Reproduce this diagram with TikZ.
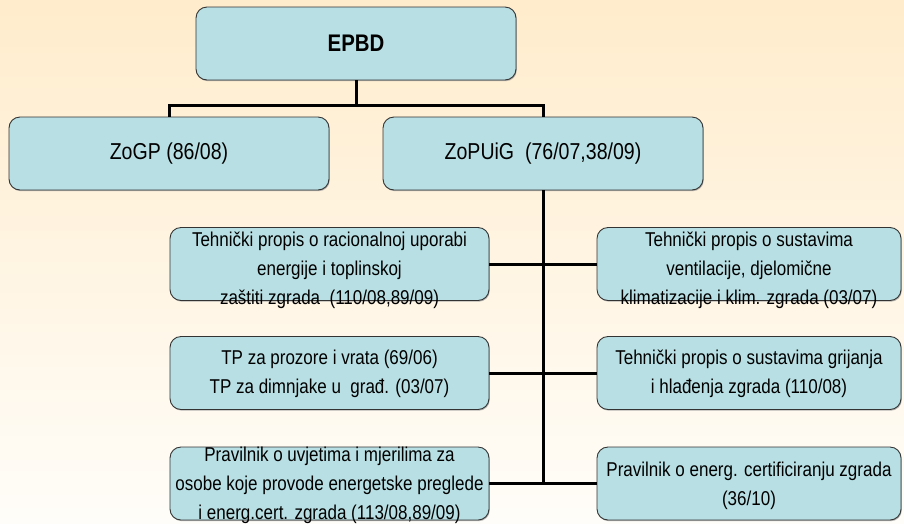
\documentclass[tikz,border=0pt]{standalone}
\usepackage{fontspec}
\setmainfont[FakeStretch=0.85]{Liberation Sans}
\usetikzlibrary{shadows}
\definecolor{boxblue}{RGB}{184,224,228}
\definecolor{bgtop}{RGB}{255,236,204}
\definecolor{bgbot}{RGB}{255,253,249}
\begin{document}
\begin{tikzpicture}[x=1pt,y=-1pt,
  box/.style={draw=black!80, line width=0.9pt, fill=boxblue, rounded corners=11pt,
    inner sep=0pt, drop shadow={shadow xshift=0.8pt, shadow yshift=-1.2pt, fill=black!40, opacity=0.7}},
  wide/.style={minimum width=320pt, minimum height=73pt},
  lbox/.style={minimum width=319pt, minimum height=73pt},
  rbox/.style={minimum width=304pt, minimum height=73pt},
  txt/.style={align=center, inner sep=0pt, font=\fontsize{20}{29}\selectfont},
  big/.style={inner sep=0pt, font=\fontsize{23}{27}\selectfont},
  conn/.style={line width=3pt, black}]
\useasboundingbox (0,0) rectangle (904,523);
\shade[top color=bgtop, bottom color=bgbot] (0,0) rectangle (904,523);

% boxes
\node[box, wide] (epbd) at (356,43.5) {};
\node[box, wide] (zogp) at (169,153.5) {};
\node[box, wide] (zopuig) at (543,153.5) {};
\node[box, lbox] (L1) at (329.5,264) {};
\node[box, rbox] (R1) at (749,264) {};
\node[box, lbox] (L2) at (329.5,373) {};
\node[box, rbox] (R2) at (749,373) {};
\node[box, lbox] (L3) at (329.5,483.5) {};
\node[box, rbox] (R3) at (749,483.5) {};

% connectors
\coordinate (hub) at (356,105);
\draw[conn] (epbd.south) -- (hub);
\draw[conn] (zogp.north) |- (hub) -| (zopuig.north);
\draw[conn] (zopuig.south) -- (zopuig.south |- L3.east);
\draw[conn] (L1.east) -- (R1.west);
\draw[conn] (L2.east) -- (R2.west);
\draw[conn] (L3.east) -- (R3.west);

% texts
\node[inner sep=0pt, font=\bfseries\fontsize{24}{28}\selectfont] (tepbd) at (epbd.center) {EPBD};
\node[big] (tzogp) at (zogp.center) {ZoGP (86/08)};
\node[big] (tzopuig) at (zopuig.center) {ZoPUiG~ (76/07,38/09)};
\node[txt, yshift=-6pt] (tL1) at (L1.center) {Tehnički propis o racionalnoj uporabi\\energije i toplinskoj\\zaštiti zgrada~ (110/08,89/09)};
\node[txt, yshift=-6pt] (tR1) at (R1.center) {Tehnički propis o sustavima\\ventilacije, djelomične\\klimatizacije i klim. zgrada (03/07)};
\node[txt, yshift=-1pt] (tL2) at (L2.center) {TP za prozore i vrata (69/06)\\TP za dimnjake u~ građ. (03/07)};
\node[txt, yshift=-1pt] (tR2) at (R2.center) {Tehnički propis o sustavima grijanja\\i hlađenja zgrada (110/08)};
\node[txt, yshift=-1.5pt] (tL3) at (L3.center) {Pravilnik o uvjetima i mjerilima za\\osobe koje provode energetske preglede\\i energ.cert. zgrada (113/08,89/09)};
\node[txt, yshift=-2pt] (tR3) at (R3.center) {Pravilnik o energ. certificiranju zgrada\\(36/10)};
\end{tikzpicture}
\end{document}
